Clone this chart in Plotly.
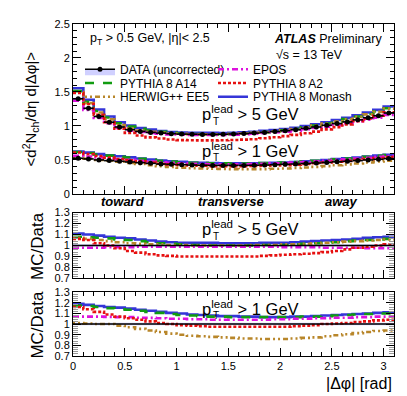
"""ATLAS-style charged-particle density vs |dphi| with MC/Data ratio panels."""

import plotly.graph_objects as go
from plotly.subplots import make_subplots

# ---- data -----------------------------------------------------------------
BIN_WIDTH = 0.1
N_BINS = 31
edges = [round(i * BIN_WIDTH, 2) for i in range(N_BINS + 1)]
centers = [round(e + BIN_WIDTH / 2, 3) for e in edges[:-1]]

# data, leading pT > 5 GeV
data_5 = [1.40, 1.26, 1.14, 1.055, 0.985, 0.945, 0.92, 0.905, 0.895, 0.885, 0.88,
          0.878, 0.876, 0.876, 0.878, 0.882, 0.888, 0.895, 0.905, 0.917, 0.93,
          0.945, 0.965, 0.985, 1.01, 1.035, 1.06, 1.09, 1.12, 1.15, 1.19]
# data, leading pT > 1 GeV
data_1 = [0.525, 0.515, 0.50, 0.49, 0.48, 0.47, 0.46, 0.45, 0.44, 0.435, 0.43,
          0.425, 0.422, 0.42, 0.42, 0.42, 0.42, 0.422, 0.425, 0.43, 0.435,
          0.44, 0.447, 0.455, 0.463, 0.472, 0.48, 0.49, 0.50, 0.51, 0.52]

# MC / data ratios, pT lead > 5 GeV
r5_monash = [1.11, 1.10, 1.09, 1.08, 1.07, 1.065, 1.055, 1.045, 1.035, 1.03, 1.025,
             1.025, 1.025, 1.025, 1.02, 1.02, 1.02, 1.02, 1.025, 1.025, 1.025,
             1.03, 1.035, 1.04, 1.045, 1.05, 1.055, 1.06, 1.07, 1.075, 1.08]
r5_a14 = [1.08, 1.075, 1.07, 1.065, 1.055, 1.05, 1.04, 1.03, 1.02, 1.015, 1.01,
          1.005, 1.005, 1.0, 1.0, 1.0, 1.0, 1.0, 1.005, 1.005, 1.005,
          1.01, 1.015, 1.02, 1.025, 1.03, 1.04, 1.045, 1.05, 1.055, 1.06]
r5_herwig = [1.07, 1.06, 1.05, 1.04, 1.03, 1.02, 1.015, 1.01, 1.01, 1.005, 1.005,
             1.0, 1.0, 1.0, 1.0, 1.0, 1.0, 1.005, 1.005, 1.005, 1.01,
             1.01, 1.015, 1.02, 1.025, 1.03, 1.035, 1.04, 1.045, 1.05, 1.055]
r5_epos = [0.98, 0.98, 0.98, 0.985, 0.985, 0.985, 0.99, 0.99, 0.99, 0.99, 0.99,
           0.99, 0.99, 0.99, 0.99, 0.99, 0.99, 0.99, 0.99, 0.99, 0.985,
           0.985, 0.985, 0.985, 0.98, 0.98, 0.98, 0.98, 0.975, 0.975, 0.975]
r5_a2 = [1.06, 1.05, 1.02, 1.0, 0.975, 0.95, 0.935, 0.92, 0.91, 0.905, 0.90,
         0.90, 0.90, 0.90, 0.90, 0.90, 0.90, 0.90, 0.905, 0.91, 0.915,
         0.92, 0.925, 0.93, 0.94, 0.95, 0.965, 0.98, 0.99, 1.0, 1.01]

# MC / data ratios, pT lead > 1 GeV
r1_monash = [1.19, 1.18, 1.17, 1.16, 1.155, 1.145, 1.135, 1.125, 1.115, 1.105, 1.10,
             1.09, 1.085, 1.08, 1.075, 1.075, 1.07, 1.07, 1.065, 1.065, 1.065,
             1.07, 1.07, 1.075, 1.08, 1.085, 1.09, 1.095, 1.10, 1.105, 1.11]
r1_a14 = [1.175, 1.17, 1.16, 1.15, 1.14, 1.135, 1.125, 1.115, 1.105, 1.095, 1.085,
          1.08, 1.075, 1.07, 1.07, 1.065, 1.065, 1.065, 1.065, 1.065, 1.065,
          1.065, 1.07, 1.07, 1.075, 1.08, 1.085, 1.09, 1.095, 1.10, 1.10]
r1_herwig = [1.01, 1.005, 1.0, 1.0, 0.985, 0.97, 0.955, 0.94, 0.925, 0.91, 0.90,
             0.89, 0.885, 0.88, 0.875, 0.87, 0.865, 0.865, 0.86, 0.86, 0.86,
             0.865, 0.87, 0.875, 0.885, 0.895, 0.905, 0.915, 0.925, 0.935, 0.94]
r1_epos = [1.07, 1.07, 1.07, 1.068, 1.065, 1.065, 1.06, 1.058, 1.055, 1.05, 1.05,
           1.045, 1.045, 1.04, 1.04, 1.04, 1.04, 1.04, 1.04, 1.045, 1.045,
           1.05, 1.05, 1.055, 1.055, 1.06, 1.06, 1.065, 1.065, 1.07, 1.07]
r1_a2 = [1.16, 1.14, 1.115, 1.09, 1.07, 1.055, 1.04, 1.025, 1.01, 1.0, 0.99,
         0.985, 0.98, 0.975, 0.975, 0.975, 0.975, 0.975, 0.975, 0.975, 0.975,
         0.98, 0.985, 0.99, 1.0, 1.005, 1.01, 1.02, 1.025, 1.035, 1.04]

DATA_BAND = 0.012  # relative half-width of the data uncertainty band
BAND_COLOR = "rgba(120,120,255,0.35)"

FONT = "Liberation Sans, Arial, sans-serif"

# name, ratio(5 GeV), ratio(1 GeV), colour, dash, legend slot (col, row)
MODELS = [
    ("PYTHIA 8 Monash", r5_monash, r1_monash, "#3535d8", "solid", (1, 2)),
    ("PYTHIA 8 A14", r5_a14, r1_a14, "#119c11", "dash", (0, 1)),
    ("HERWIG++ EE5", r5_herwig, r1_herwig, "#b8862a", "2px,3px,2px,3px,5px,3px", (0, 2)),
    ("EPOS", r5_epos, r1_epos, "#dd11dd", "6px,3px,2px,3px", (1, 0)),
    ("PYTHIA 8 A2", r5_a2, r1_a2, "#e61010", "3px,2px", (1, 1)),
]
DATA_SLOT = (0, 0)


def step(vals):
    return edges, list(vals) + [vals[-1]]


def legend_id(slot):
    n = slot[0] * 3 + slot[1] + 1
    return "legend" if n == 1 else f"legend{n}"


fig = make_subplots(rows=3, cols=1, shared_xaxes=True)

# data uncertainty band (top panel)
for dat in (data_5, data_1):
    xs, ys = step(dat)
    lo = [v * (1 - DATA_BAND) for v in ys]
    hi = [v * (1 + DATA_BAND) for v in ys]
    fig.add_trace(go.Scatter(x=xs, y=lo, mode="lines", line=dict(width=0, shape="hv"),
                             showlegend=False, hoverinfo="skip"), row=1, col=1)
    fig.add_trace(go.Scatter(x=xs, y=hi, mode="lines", line=dict(width=0, shape="hv"),
                             fill="tonexty", fillcolor=BAND_COLOR,
                             showlegend=False, hoverinfo="skip"), row=1, col=1)

# data band in ratio panels
for r in (2, 3):
    fig.add_trace(go.Scatter(x=[edges[0], edges[-1]], y=[1 - DATA_BAND, 1 - DATA_BAND],
                             mode="lines", line=dict(width=0), showlegend=False,
                             hoverinfo="skip"), row=r, col=1)
    fig.add_trace(go.Scatter(x=[edges[0], edges[-1]], y=[1 + DATA_BAND, 1 + DATA_BAND],
                             mode="lines", line=dict(width=0), fill="tonexty",
                             fillcolor=BAND_COLOR, showlegend=False,
                             hoverinfo="skip"), row=r, col=1)

# MC curves
for name, r5, r1, color, dash, slot in MODELS:
    line = dict(color=color, width=2.6, dash=dash, shape="hv")
    for i, (dat, rat) in enumerate(((data_5, r5), (data_1, r1))):
        mc = [d * q for d, q in zip(dat, rat)]
        xs, ys = step(mc)
        fig.add_trace(go.Scatter(x=xs, y=ys, mode="lines", line=line, name=name,
                                 legend=legend_id(slot), showlegend=(i == 0)),
                      row=1, col=1)
    for r, rat in ((2, r5), (3, r1)):
        xs, ys = step(rat)
        fig.add_trace(go.Scatter(x=xs, y=ys, mode="lines", line=line, name=name,
                                 showlegend=False), row=r, col=1)

# data points
for dat in (data_5, data_1):
    fig.add_trace(go.Scatter(
        x=centers, y=dat, mode="markers",
        marker=dict(color="black", size=5),
        error_x=dict(type="constant", value=BIN_WIDTH / 2, width=0, thickness=1.6,
                     color="black"),
        showlegend=False), row=1, col=1)
fig.add_trace(go.Scatter(x=[None], y=[None], mode="lines+markers", name="DATA (uncorrected)",
                         line=dict(color="black", width=1.6),
                         marker=dict(color="black", size=5),
                         fill="toself", fillcolor=BAND_COLOR,
                         legend=legend_id(DATA_SLOT)), row=1, col=1)

# unity line in the ratio panels
for r in (2, 3):
    fig.add_trace(go.Scatter(x=[edges[0], edges[-1]], y=[1, 1], mode="lines",
                             line=dict(color="black", width=1.4), showlegend=False),
                  row=r, col=1)

# ---- axes ---------------------------------------------------------------
H, W = 396, 407
ML, MR, MT, MB = 65, 21, 10, 48
PH, PW = H - MT - MB, W - ML - MR


def py(pix):  # pixel from top -> paper y
    return (H - MB - pix) / PH


def px(pix):  # pixel from left -> paper x
    return (pix - ML) / PW


ax_common = dict(showline=True, linecolor="black", linewidth=1, mirror="allticks",
                 ticks="inside", tickcolor="black", showgrid=False, zeroline=False,
                 tickfont=dict(family=FONT, size=11, color="black"))

fig.update_xaxes(range=[edges[0], edges[-1]], dtick=0.5, ticklen=8,
                 minor=dict(ticks="inside", dtick=0.1, ticklen=4, tickcolor="black"),
                 **ax_common)
fig.update_xaxes(showticklabels=False, row=1, col=1)
fig.update_xaxes(showticklabels=False, row=2, col=1)
fig.update_yaxes(**ax_common)
fig.update_yaxes(range=[0, 2.5], dtick=0.5, ticklen=8,
                 minor=dict(ticks="inside", dtick=0.1, ticklen=4, tickcolor="black"),
                 domain=[py(183), py(10)], row=1, col=1)
for r, (top, bot) in ((2, (202, 269)), (3, (283, 348))):
    fig.update_yaxes(range=[0.7, 1.3], dtick=0.1, ticklen=8,
                     minor=dict(ticks="inside", dtick=0.02, ticklen=5, tickcolor="#999999"),
                     domain=[py(bot), py(top)], row=r, col=1)

# ---- text -----------------------------------------------------------------
ann = []


def text(x, y, s, size, xanchor="left", **kw):
    ann.append(dict(x=px(x), y=py(y), xref="paper", yref="paper", text=s, showarrow=False,
                    xanchor=xanchor, yanchor="middle",
                    font=dict(family=FONT, size=size, color="black"), **kw))


text(80, 25, "p<sub>T</sub> > 0.5 GeV, |η|< 2.5", 12.5)
text(376, 25, "<b><i>ATLAS</i></b> Preliminary", 12.5, xanchor="right")
text(266, 42, "√s = 13 TeV", 12.5)

for y in (101, 218):
    text(192, y, "p<sup>lead</sup> > 5 GeV", 16.5)
    text(203, y + 8, "T", 10)
for y in (138, 299):
    text(192, y, "p<sup>lead</sup> > 1 GeV", 16.5)
    text(203, y + 8, "T", 10)

text(115, 191, "<b><i>toward</i></b>", 13, xanchor="center")
text(223, 191, "<b><i>transverse</i></b>", 13, xanchor="center")
text(333, 191, "<b><i>away</i></b>", 13, xanchor="center")

text(22, 97, "&lt;d<sup>2</sup>N<sub>ch</sub>/dη d|Δφ|&gt;", 15, xanchor="center",
     textangle=-90)
text(30, 236, "MC/Data", 17, xanchor="center", textangle=-90)
text(30, 316, "MC/Data", 17, xanchor="center", textangle=-90)
text(386, 376, "|Δφ| [rad]", 16, xanchor="right")

# one legend box per entry, laid out as two columns of three rows
LEG_COL_X = (72, 205)
LEG_ROW_Y = (56, 70, 84)
legends = {}
for col in range(2):
    for row in range(3):
        legends[legend_id((col, row))] = dict(
            x=px(LEG_COL_X[col]), y=py(LEG_ROW_Y[row]), xanchor="left", yanchor="middle",
            bgcolor="rgba(0,0,0,0)", font=dict(family=FONT, size=12, color="black"),
            itemwidth=30)

fig.update_layout(
    width=W, height=H,
    margin=dict(l=ML, r=MR, t=MT, b=MB),
    paper_bgcolor="white", plot_bgcolor="white",
    font=dict(family=FONT, color="black"),
    annotations=ann,
    **legends,
)

fig.write_html("out.html")
